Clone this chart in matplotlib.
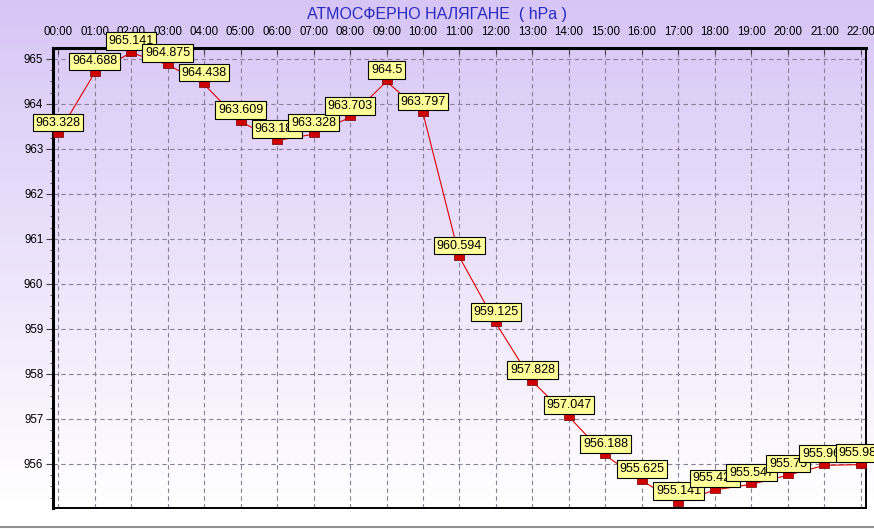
import matplotlib
matplotlib.use("Agg")
import matplotlib.pyplot as plt
import numpy as np
from matplotlib.lines import Line2D
from matplotlib.ticker import MultipleLocator

# hourly pressure readings
hours = ["00:00", "01:00", "02:00", "03:00", "04:00", "05:00", "06:00", "07:00",
         "08:00", "09:00", "10:00", "11:00", "12:00", "13:00", "14:00", "15:00",
         "16:00", "17:00", "18:00", "19:00", "20:00", "21:00", "22:00"]
pressure = [963.328, 964.688, 965.141, 964.875, 964.438, 963.609, 963.188, 963.328,
            963.703, 964.5, 963.797, 960.594, 959.125, 957.828, 957.047, 956.188,
            955.625, 955.141, 955.422, 955.547, 955.75, 955.969, 955.984]
labels = ["963.328", "964.688", "965.141", "964.875", "964.438", "963.609", "963.188",
          "963.328", "963.703", "964.5", "963.797", "960.594", "959.125", "957.828",
          "957.047", "956.188", "955.625", "955.141", "955.422", "955.547", "955.75",
          "955.969", "955.984"]
y_ticks = [956, 957, 958, 959, 960, 961, 962, 963, 964, 965]

plt.rcParams['font.family'] = ['Liberation Sans', 'DejaVu Sans']

fig = plt.figure(figsize=(8.74, 5.29), dpi=100)

# background gradient: purple at top fading to white
bg = fig.add_axes([0, 0, 1, 1], zorder=-10)
top = np.array([215, 197, 246]) / 255.0
grad = np.linspace(0, 1, 529)
grad = np.clip(grad / 0.95, 0, 1)
img = top[None, :] * (1 - grad[:, None]) + np.ones(3)[None, :] * grad[:, None]
img = np.repeat(img[:, None, :], 2, axis=1)
bg.imshow(img, aspect='auto', extent=[0, 1, 0, 1], origin='upper')
bg.set_xlim(0, 1)
bg.set_ylim(0, 1)
bg.axis('off')
fig.add_artist(Line2D([0, 1], [0.003, 0.003], color='#909090', lw=1.5,
                      transform=fig.transFigure))

ax = fig.add_axes([53 / 874, 1 - 508 / 529, (866 - 53) / 874, (508 - 48) / 529])
ax.patch.set_alpha(0)

x = np.arange(len(hours))
ax.plot(x, pressure, color='#E00000', lw=0.8, zorder=3)
rect = [(-1, -0.5), (1, -0.5), (1, 0.5), (-1, 0.5), (-1, -0.5)]
ax.plot(x, pressure, ls='none', marker=rect, markersize=7.5,
        markerfacecolor='#D00000', markeredgecolor='#700000', markeredgewidth=0.5,
        zorder=4)

for i, (xi, yi, lab) in enumerate(zip(x, pressure, labels)):
    ax.annotate(lab, (xi, yi), xytext=(0, 4), textcoords='offset points',
                ha='center', va='bottom', fontsize=9, zorder=5 + i,
                bbox=dict(boxstyle='square,pad=0.22', fc='#FFFF99', ec='black', lw=0.8),
                annotation_clip=False)

ax.set_xlim(-0.137, 22.137)
ax.set_ylim(955.02, 965.244)
ax.set_xticks(x)
ax.set_xticklabels(hours)
ax.set_yticks(y_ticks)
ax.yaxis.set_minor_locator(MultipleLocator(0.25))
ax.xaxis.tick_top()
ax.tick_params(axis='x', which='major', direction='in', length=4, labelsize=8.3,
               pad=7, color='#404040')
ax.tick_params(axis='y', which='major', direction='out', length=5, labelsize=8.3,
               pad=2, color='#404040')
ax.tick_params(axis='y', which='minor', direction='out', length=2.5, color='#404040')

ax.grid(True, color='#8a7f95', ls=(0, (4, 3)), lw=0.8)
ax.set_axisbelow(True)

ax.spines['left'].set_linewidth(2.2)
ax.spines['top'].set_linewidth(2.2)
ax.spines['right'].set_linewidth(1.4)
ax.spines['bottom'].set_linewidth(1.4)

fig.text(0.5, 1 - 15 / 529, "АТМОСФЕРНО НАЛЯГАНЕ  ( hPa )", ha='center', va='center',
         fontsize=11.5, color='#2a2ac0')

fig.savefig("out.png", dpi=100)
